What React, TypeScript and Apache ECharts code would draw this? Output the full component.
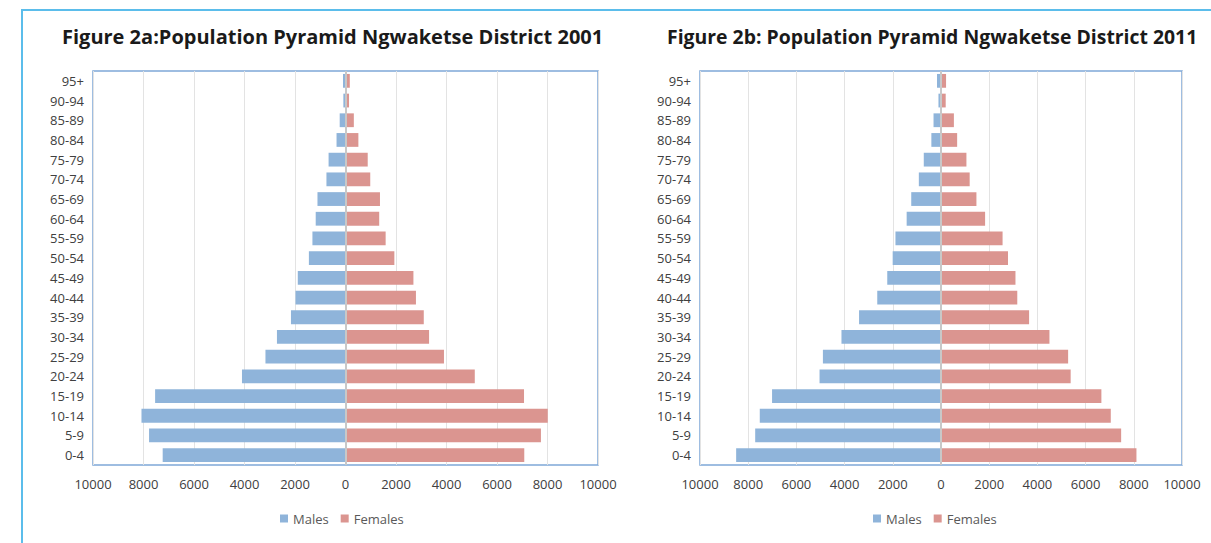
import React, { useEffect, useRef } from "react";
import * as echarts from "echarts";

const categories = ["0-4","5-9","10-14","15-19","20-24","25-29","30-34","35-39","40-44","45-49","50-54","55-59","60-64","65-69","70-74","75-79","80-84","85-89","90-94","95+"];
const males2001 = [7240,7780,8080,7540,4100,3170,2715,2160,1980,1890,1450,1310,1180,1110,755,670,355,230,85,100];
const females2001 = [7080,7740,8010,7070,5120,3900,3310,3100,2790,2690,1935,1590,1335,1365,980,880,510,330,140,170];
const males2011 = [8500,7710,7520,7010,5040,4900,4130,3400,2645,2230,2005,1890,1425,1235,920,715,400,310,105,165];
const females2011 = [8110,7475,7045,6655,5380,5275,4500,3655,3165,3090,2780,2555,1830,1470,1190,1055,670,535,195,210];
const titles = ["Figure 2a:Population Pyramid Ngwaketse District 2001", "Figure 2b: Population Pyramid Ngwaketse District 2011"];

const FONT = "'Open Sans', sans-serif";
const BLUE = "#8FB4DA";
const RED = "#DB9590";

export default function App() {
  const ref = useRef<HTMLDivElement>(null);
  useEffect(() => {
    document.body.style.margin = "0";
    const chart = echarts.init(ref.current!, null, { renderer: "svg" });
    const grids = [
      { left: 93, top: 71, width: 505, height: 394 },
      { left: 700, top: 71, width: 482, height: 394 },
    ];
    const data = [[males2001, females2001], [males2011, females2011]];
    const series: any[] = [];
    data.forEach((d, i) => {
      series.push({
        name: "Males", type: "bar", stack: "s" + i, xAxisIndex: i, yAxisIndex: i,
        data: d[0].map((v) => -v), barCategoryGap: "30%",
        itemStyle: { color: BLUE },
        markLine: {
          silent: true, symbol: "none", label: { show: false },
          lineStyle: { color: "#C8C8C8", type: "solid", width: 2 },
          data: [{ xAxis: 0 }],
        },
      });
      series.push({
        name: "Females", type: "bar", stack: "s" + i, xAxisIndex: i, yAxisIndex: i,
        data: d[1], barCategoryGap: "30%",
        itemStyle: { color: RED },
      });
    });
    chart.setOption({
      animation: false,
      textStyle: { fontFamily: FONT },
      title: [
        { text: titles[0], left: 57, top: 21, textStyle: { fontFamily: FONT, fontSize: 20, fontWeight: "bold", color: "#1a1a1a" } },
        { text: titles[1], left: 662, top: 22, textStyle: { fontFamily: FONT, fontSize: 19.4, fontWeight: "bold", color: "#1a1a1a" } },
      ],
      graphic: [
        { type: "polyline", shape: { points: [[22, 543], [22, 10], [1211, 10]] }, style: { stroke: "#5BBDEB", lineWidth: 2, fill: "none" } },
      ],
      legend: [
        { data: ["Males", "Females"], left: 275, top: 507, icon: "rect", itemWidth: 8, itemHeight: 8, itemGap: 12, textStyle: { fontFamily: FONT, fontSize: 13, color: "#595959" } },
        { data: ["Males", "Females"], left: 868, top: 507, icon: "rect", itemWidth: 8, itemHeight: 8, itemGap: 12, textStyle: { fontFamily: FONT, fontSize: 13, color: "#595959" } },
      ],
      grid: grids.map((g) => ({ ...g, show: true, borderColor: "#7FA8D8", borderWidth: 1.5, backgroundColor: "transparent" })),
      xAxis: grids.map((_, i) => ({
        type: "value", gridIndex: i, min: -10000, max: 10000, interval: 2000,
        axisLine: { show: false }, axisTick: { show: false },
        axisLabel: { formatter: (v: number) => String(Math.abs(v)), color: "#404040", fontSize: 13, fontFamily: FONT, margin: 12 },
        splitLine: { show: true, lineStyle: { color: "#E3E3E3", width: 1 } },
      })),
      yAxis: grids.map((_, i) => ({
        type: "category", gridIndex: i, data: categories,
        axisLine: { show: false }, axisTick: { show: false },
        axisLabel: { color: "#404040", fontSize: 13, fontFamily: FONT, margin: 9, interval: 0 },
      })),
      series,
    });
    return () => chart.dispose();
  }, []);
  return <div ref={ref} style={{ width: 1211, height: 543 }} />;
}
